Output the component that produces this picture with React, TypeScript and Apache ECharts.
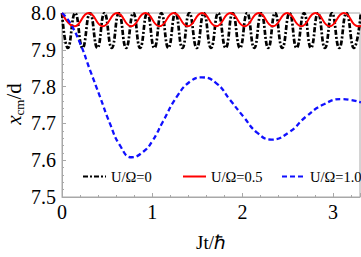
import React, { useEffect, useRef } from "react";
import * as echarts from "echarts";

// U/Ω=0 : extrema [t, x_cm/d]
const blackTimes = [0, 0.065, 0.146, 0.227, 0.31, 0.392, 0.47, 0.551, 0.63, 0.71, 0.79, 0.865, 0.944, 1.023, 1.1, 1.178, 1.256, 1.333, 1.41, 1.492, 1.571, 1.65, 1.73, 1.813, 1.89, 1.971, 2.05, 2.129, 2.206, 2.284, 2.36, 2.439, 2.52, 2.598, 2.68, 2.757, 2.835, 2.912, 2.99, 3.07, 3.15, 3.232, 3.31];
const blackValues = [8.0, 7.905, 8.0, 7.905, 8.0, 7.905, 8.0, 7.905, 8.0, 7.905, 8.0, 7.905, 8.0, 7.905, 8.0, 7.905, 8.0, 7.905, 8.0, 7.905, 8.0, 7.905, 8.0, 7.905, 8.0, 7.905, 8.0, 7.905, 8.0, 7.905, 8.0, 7.905, 8.0, 7.905, 8.0, 7.905, 8.0, 7.905, 8.0, 7.905, 8.0, 7.905, 8.0];

// U/Ω=0.5
const redTimes = [0, 0.138, 0.295, 0.452, 0.609, 0.766, 0.923, 1.08, 1.237, 1.394, 1.551, 1.708, 1.865, 2.022, 2.179, 2.336, 2.493, 2.65, 2.807, 2.964, 3.121, 3.278, 3.31];
const redValues = [8.0, 7.964, 8.0, 7.964, 8.0, 7.964, 8.0, 7.964, 8.0, 7.964, 8.0, 7.964, 8.0, 7.964, 8.0, 7.964, 8.0, 7.964, 8.0, 7.964, 8.0, 7.964, 7.965];

// U/Ω=1.0
const blueTimes = [0, 0.09, 0.2, 0.31, 0.42, 0.53, 0.64, 0.77, 0.9, 1.0, 1.12, 1.27, 1.42, 1.55, 1.71, 1.86, 2.01, 2.16, 2.32, 2.52, 2.7, 2.9, 3.1, 3.31];
const blueValues = [8.0, 7.973, 7.918, 7.845, 7.773, 7.7, 7.641, 7.608, 7.623, 7.652, 7.706, 7.772, 7.814, 7.825, 7.809, 7.764, 7.718, 7.675, 7.656, 7.677, 7.718, 7.752, 7.766, 7.757];

const seriesNames = ["U/Ω=0", "U/Ω=0.5", "U/Ω=1.0"];
const xTicks = [0, 1, 2, 3];
const yTicks = [7.5, 7.6, 7.7, 7.8, 7.9, 8.0];

const zip = (a: number[], b: number[]) => a.map((t, i) => [t, b[i]]);

export default function App() {
  const ref = useRef<HTMLDivElement>(null);
  useEffect(() => {
    if (!ref.current) return;
    const chart = echarts.init(ref.current, null, { renderer: "svg" });
    const serif = "Liberation Serif";
    const axisGray = "#a8a8a8";
    const legendBase = {
      top: 164,
      itemWidth: 23,
      itemHeight: 10,
      itemGap: 5,
      width: 120,
      itemStyle: { opacity: 0 },
      textStyle: { fontFamily: serif, fontSize: 14.5, color: "#000" },
    };
    chart.setOption({
      animation: false,
      grid: {
        left: 62,
        right: 1,
        top: 13,
        bottom: 60,
        show: true,
        borderColor: axisGray,
        borderWidth: 1,
        backgroundColor: "transparent",
      },
      xAxis: {
        type: "value",
        min: xTicks[0],
        max: 3.3,
        interval: 1,
        axisLine: { lineStyle: { color: axisGray, width: 1 } },
        axisTick: { inside: true, length: 4, lineStyle: { color: axisGray } },
        minorTick: { show: true, splitNumber: 5, length: 2, lineStyle: { color: axisGray } },
        splitLine: { show: false },
        axisLabel: {
          color: "#000",
          fontFamily: serif,
          fontSize: 20,
          margin: 5,
          showMaxLabel: false,
          formatter: (v: number) => (xTicks.includes(v) ? String(v) : ""),
        },
      },
      yAxis: {
        type: "value",
        min: yTicks[0],
        max: yTicks[yTicks.length - 1],
        interval: 0.1,
        axisLine: { show: true, lineStyle: { color: axisGray, width: 1 } },
        axisTick: { show: true, inside: true, length: 4, lineStyle: { color: axisGray } },
        minorTick: { show: true, splitNumber: 5, length: 2, lineStyle: { color: axisGray } },
        splitLine: { show: false },
        axisLabel: {
          color: "#000",
          fontFamily: serif,
          fontSize: 20,
          margin: 6,
          formatter: (v: number) => v.toFixed(1),
        },
      },
      legend: [
        { ...legendBase, data: [seriesNames[0]], left: 77 },
        { ...legendBase, data: [seriesNames[1]], left: 177 },
        { ...legendBase, data: [seriesNames[2]], left: 276 },
      ],
      graphic: [
        {
          type: "text",
          x: 211,
          y: 242,
          style: {
            text: "Jt/ℏ",
            fontFamily: serif,
            fontSize: 19,
            fill: "#000",
            align: "center",
            verticalAlign: "middle",
          },
        },
        {
          type: "text",
          x: 14,
          y: 104,
          rotation: Math.PI / 2,
          style: {
            text: "{i|x}{s|cm}{n|/d}",
            align: "center",
            verticalAlign: "middle",
            rich: {
              i: { fontFamily: serif, fontStyle: "italic", fontSize: 21, fill: "#000", lineHeight: 22 },
              s: { fontFamily: serif, fontSize: 13, fill: "#000", lineHeight: 22, padding: [10, 0, 0, 0] },
              n: { fontFamily: serif, fontSize: 21, fill: "#000", lineHeight: 22 },
            },
          },
        },
      ],
      series: [
        {
          name: seriesNames[0],
          type: "line",
          data: zip(blackTimes, blackValues),
          smooth: 0.5,
          symbol: "none",
          color: "#000",
          lineStyle: { color: "#000", width: 2.7, type: [5, 2, 2, 2] },
          z: 2,
        },
        {
          name: seriesNames[1],
          type: "line",
          data: zip(redTimes, redValues),
          smooth: 0.5,
          symbol: "none",
          color: "#ff0000",
          lineStyle: { color: "#ff0000", width: 2, type: "solid" },
          z: 3,
        },
        {
          name: seriesNames[2],
          type: "line",
          data: zip(blueTimes, blueValues),
          smooth: 0.5,
          symbol: "none",
          color: "#1010ff",
          lineStyle: { color: "#1010ff", width: 2.3, type: [5, 3] },
          z: 4,
        },
      ],
    });
    return () => chart.dispose();
  }, []);
  return <div ref={ref} style={{ width: 361, height: 257, position: "absolute", left: 0, top: 0 }} />;
}
